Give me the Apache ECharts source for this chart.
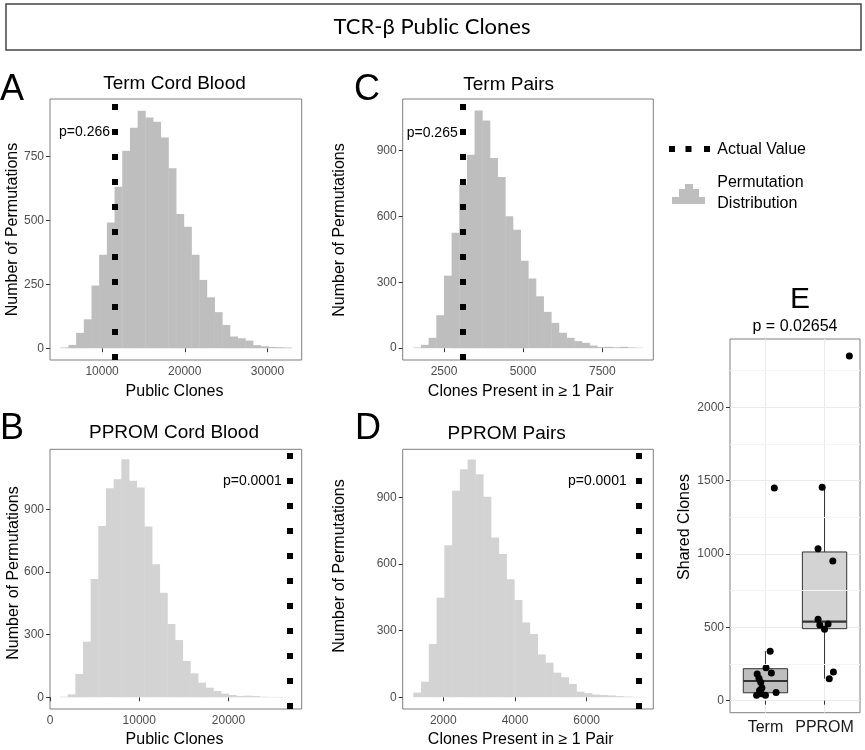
<!DOCTYPE html>
<html><head><meta charset="utf-8">
<script src="https://cdn.jsdelivr.net/npm/echarts@6/dist/echarts.min.js"></script>
<style>html,body{margin:0;padding:0;background:#fff}#c{width:865px;height:750px}</style>
</head><body><div id="c"></div>
<script>
// ---------- data ----------
const figureTitle = 'TCR-β Public Clones';
const panelTitles = ['Term Cord Blood', 'Term Pairs', 'PPROM Cord Blood', 'PPROM Pairs'];
const panelLetters = ['A', 'C', 'B', 'D', 'E'];
const pLabels = ['p=0.266', 'p=0.265', 'p=0.0001', 'p=0.0001'];
const xTitles = ['Public Clones', 'Clones Present in ≥ 1 Pair', 'Public Clones', 'Clones Present in ≥ 1 Pair'];
const yTitle = 'Number of Permutations';

// histogram counts (30 bins each)
const termCordCounts  = [3, 13, 60, 113, 245, 365, 491, 631, 772, 862, 928, 902, 885, 824, 703, 525, 475, 365, 267, 199, 141, 91, 46, 39, 30, 12, 8, 5, 4, 3];
const termPairsCounts = [3, 15, 47, 150, 330, 525, 745, 880, 1082, 1036, 865, 779, 600, 539, 398, 317, 236, 165, 115, 70, 47, 32, 24, 12, 5, 6, 4, 6, 3, 2];
const ppromCordCounts = [3, 14, 112, 266, 566, 820, 1000, 1044, 1139, 1036, 1004, 817, 637, 501, 351, 274, 174, 115, 70, 46, 30, 18, 11, 6, 8, 6, 3, 2, 2, 1];
const ppromPairsCounts = [21, 70, 240, 448, 685, 930, 1027, 1071, 1005, 903, 720, 645, 532, 438, 337, 285, 193, 156, 111, 90, 60, 25, 18, 12, 10, 8, 5, 3, 2, 1];
// bin start / bin width
const termCordBins  = [4998, 930];
const termPairsBins = [1530, 242];
const ppromCordBins = [1120, 859];
const ppromPairsBins = [1163, 216.7];
// actual observed values
const actualValues = [11564, 3091, 26812, 7450];

// axis ranges and ticks
const termCordX = [3700, 34140];  const termCordXTicks = [10000, 20000, 30000];
const termPairsX = [1195, 9111];  const termPairsXTicks = [2500, 5000, 7500];
const ppromCordX = [0, 28200];    const ppromCordXTicks = [0, 10000, 20000];
const ppromPairsX = [868, 7858];  const ppromPairsXTicks = [2000, 4000, 6000];
const termCordY = [-46, 974];     const termCordYTicks = [0, 250, 500, 750];
const termPairsY = [-54, 1134];   const termPairsYTicks = [0, 300, 600, 900];
const ppromCordY = [-56, 1187];   const ppromCordYTicks = [0, 300, 600, 900];
const ppromPairsY = [-53, 1117];  const ppromPairsYTicks = [0, 300, 600, 900];

// panel E
const eCategories = ['Term', 'PPROM'];
const eTitle = 'p = 0.02654';
const eYTitle = 'Shared Clones';
const termShared  = [1450, 337, 225, 189, 182, 153, 125, 88, 70, 55, 48, 37, 37];
const termJitter  = [1.15, 1.08, 1.01, 1.10, 0.86, 0.89, 0.92, 0.94, 0.90, 1.18, 0.93, 0.85, 1.00];
const ppromShared = [2350, 1455, 1036, 952, 555, 523, 516, 487, 196, 150];
const ppromJitter = [2.42, 1.96, 1.89, 2.14, 1.89, 2.06, 1.92, 2.00, 2.15, 2.08];
const termBox  = [33, 54, 134, 218, 337];     // min, Q1, median, Q3, max (whiskers)
const ppromBox = [150, 491, 539, 1014, 1455];
const eY = [-82, 2466];
const eYTicks = [0, 500, 1000, 1500, 2000];
const eYMinor = [250, 750, 1250, 1750, 2250];
const legendLabels = ['Actual Value', 'Permutation', 'Distribution'];

// ---------- styles ----------
const FONT = '"Liberation Sans", Arial, Helvetica, sans-serif';
const TERM_GRAY = '#bebebe', PPROM_GRAY = '#d3d3d3';
const BORDER = '#7f7f7f';

function valAxis(gridIndex, range, ticks, extra) {
  return Object.assign({
    type: 'value', gridIndex, min: range[0], max: range[1],
    axisLine: { show: false },
    axisTick: { show: true, length: 4, lineStyle: { color: '#333' }, customValues: ticks },
    axisLabel: { customValues: ticks, color: '#4d4d4d', fontSize: 12, fontFamily: FONT, margin: 6, formatter: v => String(v) },
    splitLine: { show: false }
  }, extra || {});
}

function histSeries(idx, color, bins, counts, actual) {
  const data = counts.map((c, i) => [bins[0] + i * bins[1], bins[0] + (i + 1) * bins[1], c]);
  return {
    type: 'custom', xAxisIndex: idx, yAxisIndex: idx, data,
    encode: { x: [0, 1], y: 2 },
    renderItem: (params, api) => {
      const p0 = api.coord([api.value(0), 0]);
      const p1 = api.coord([api.value(1), api.value(2)]);
      return { type: 'rect', shape: { x: p0[0], y: p1[1], width: p1[0] - p0[0] + 0.4, height: p0[1] - p1[1] }, style: { fill: color } };
    },
    markLine: {
      silent: true, symbol: ['none', 'none'], animation: false,
      label: { show: false }, emphasis: { disabled: true },
      lineStyle: { type: [6, 19], width: 6, color: '#000', cap: 'butt' },
      data: [{ xAxis: actual }]
    },
    z: 2
  };
}

const grids = [
  { left: 50, top: 99, width: 251.7, height: 261 },
  { left: 402.7, top: 99, width: 250.6, height: 261 },
  { left: 50, top: 449.3, width: 251.7, height: 259.7 },
  { left: 402.7, top: 449.3, width: 250.6, height: 259.7 },
  { left: 730, top: 339, width: 130, height: 373.7 }
].map(g => Object.assign({ show: true, borderColor: BORDER, borderWidth: 1, backgroundColor: '#fff' }, g));

const xAxes = [
  valAxis(0, termCordX, termCordXTicks),
  valAxis(1, termPairsX, termPairsXTicks),
  valAxis(2, ppromCordX, ppromCordXTicks),
  valAxis(3, ppromPairsX, ppromPairsXTicks),
  valAxis(4, [0.4, 2.6], [1, 2], {
    axisLabel: { customValues: [1, 2], color: '#1a1a1a', fontSize: 16, fontFamily: FONT, margin: 7, formatter: v => eCategories[Math.round(v) - 1] },
    splitLine: { show: true, lineStyle: { color: '#ebebeb', width: 1 } }
  })
];
const yAxes = [
  valAxis(0, termCordY, termCordYTicks),
  valAxis(1, termPairsY, termPairsYTicks),
  valAxis(2, ppromCordY, ppromCordYTicks),
  valAxis(3, ppromPairsY, ppromPairsYTicks),
  valAxis(4, eY, eYTicks, { splitLine: { show: true, lineStyle: { color: '#ebebeb', width: 1 } } })
];

const boxColors = [TERM_GRAY, PPROM_GRAY];
const series = [
  histSeries(0, TERM_GRAY, termCordBins, termCordCounts, actualValues[0]),
  histSeries(1, TERM_GRAY, termPairsBins, termPairsCounts, actualValues[1]),
  histSeries(2, PPROM_GRAY, ppromCordBins, ppromCordCounts, actualValues[2]),
  histSeries(3, PPROM_GRAY, ppromPairsBins, ppromPairsCounts, actualValues[3]),
  { // minor grid lines for E
    type: 'line', xAxisIndex: 4, yAxisIndex: 4, data: [], z: 0,
    markLine: {
      silent: true, symbol: ['none', 'none'], animation: false, label: { show: false },
      lineStyle: { type: 'solid', color: '#f4f4f4', width: 1 },
      data: eYMinor.map(v => ({ yAxis: v }))
    }
  },
  {
    type: 'custom', xAxisIndex: 4, yAxisIndex: 4,
    data: [[1].concat(termBox), [2].concat(ppromBox)],
    encode: { x: 0, y: [1, 2, 3, 4, 5] },
    renderItem: (params, api) => {
      const x = api.value(0), hw = 0.375;
      const lo = api.coord([x, api.value(1)]), q1 = api.coord([x, api.value(2)]);
      const q3 = api.coord([x, api.value(4)]), hi = api.coord([x, api.value(5)]);
      const tl = api.coord([x - hw, api.value(4)]), br = api.coord([x + hw, api.value(2)]);
      const ml = api.coord([x - hw, api.value(3)]), mr = api.coord([x + hw, api.value(3)]);
      const st = { stroke: '#333', lineWidth: 1 };
      return { type: 'group', children: [
        { type: 'line', shape: { x1: hi[0], y1: hi[1], x2: q3[0], y2: q3[1] }, style: st },
        { type: 'line', shape: { x1: lo[0], y1: lo[1], x2: q1[0], y2: q1[1] }, style: st },
        { type: 'rect', shape: { x: tl[0], y: tl[1], width: br[0] - tl[0], height: br[1] - tl[1] }, style: { fill: boxColors[params.dataIndex], stroke: '#333', lineWidth: 1 } },
        { type: 'line', shape: { x1: ml[0], y1: ml[1], x2: mr[0], y2: mr[1] }, style: { stroke: '#333', lineWidth: 2.2 } }
      ] };
    },
    z: 2
  },
  {
    type: 'scatter', xAxisIndex: 4, yAxisIndex: 4, symbolSize: 7, itemStyle: { color: '#000', opacity: 1 },
    data: termJitter.map((x, i) => [x, termShared[i]]).concat(ppromJitter.map((x, i) => [x, ppromShared[i]])),
    z: 3
  }
];

function txt(text, x, y, size, opts) {
  const o = opts || {};
  return {
    type: 'text', x, y, rotation: o.rot || 0, z: 10,
    style: {
      text, font: (o.weight || 'normal') + ' ' + size + 'px ' + (o.family || FONT), fill: o.color || '#000',
      textAlign: o.align || 'center', textVerticalAlign: 'middle', align: o.align || 'center', verticalAlign: 'middle'
    }
  };
}

const graphics = [
  { type: 'rect', shape: { x: 6, y: 4, width: 855, height: 46 }, style: { fill: '#fff', stroke: '#444', lineWidth: 1.5 }, z: 1 },
  txt(figureTitle, 432, 27, 22, { family: 'Lato, "Open Sans", sans-serif' }),
  // letters
  txt(panelLetters[0], 0, 90, 36, { align: 'left' }),
  txt(panelLetters[1], 354, 90, 36, { align: 'left' }),
  txt(panelLetters[2], 0, 429, 36, { align: 'left' }),
  txt(panelLetters[3], 355, 429, 36, { align: 'left' }),
  txt(panelLetters[4], 800, 300, 30),
  // panel titles
  txt(panelTitles[0], 174.5, 84, 19),
  txt(panelTitles[1], 508.7, 85, 19),
  txt(panelTitles[2], 174, 433, 19),
  txt(panelTitles[3], 506.7, 433.3, 19),
  txt(eTitle, 795, 327, 16),
  // y titles
  txt(yTitle, 13, 229.5, 16, { rot: Math.PI / 2 }),
  txt(yTitle, 340, 230, 16, { rot: Math.PI / 2 }),
  txt(yTitle, 13.3, 573, 16, { rot: Math.PI / 2 }),
  txt(yTitle, 340, 566, 16, { rot: Math.PI / 2 }),
  txt(eYTitle, 685, 527, 16, { rot: Math.PI / 2 }),
  // x titles
  txt(xTitles[0], 174.5, 391.7, 16),
  txt(xTitles[1], 520.7, 391.7, 16),
  txt(xTitles[2], 174.5, 739.5, 16),
  txt(xTitles[3], 520.7, 739.5, 16),
  // p labels
  txt(pLabels[0], 110, 131.7, 14, { align: 'right' }),
  txt(pLabels[1], 457.7, 132.7, 14, { align: 'right' }),
  txt(pLabels[2], 281.7, 480.7, 14, { align: 'right' }),
  txt(pLabels[3], 626.7, 480.7, 14, { align: 'right' }),
  // legend
  { type: 'rect', shape: { x: 669, y: 146, width: 6, height: 6 }, style: { fill: '#000' } },
  { type: 'rect', shape: { x: 685.5, y: 146, width: 6, height: 6 }, style: { fill: '#000' } },
  { type: 'rect', shape: { x: 704, y: 146, width: 6, height: 6 }, style: { fill: '#000' } },
  { type: 'polygon', shape: { points: [[672, 204], [672, 197], [679, 197], [679, 189], [685, 189], [685, 184], [693, 184], [693, 189], [699, 189], [699, 197], [705, 197], [705, 204]] }, style: { fill: TERM_GRAY } },
  txt(legendLabels[0], 717.3, 149.3, 16, { align: 'left' }),
  txt(legendLabels[1], 717.3, 183, 16, { align: 'left' }),
  txt(legendLabels[2], 717.3, 203.5, 16, { align: 'left' })
];

const chart = echarts.init(document.getElementById('c'), null, { renderer: 'canvas' });
chart.setOption({
  animation: false,
  backgroundColor: '#fff',
  textStyle: { fontFamily: FONT },
  grid: grids,
  xAxis: xAxes,
  yAxis: yAxes,
  series,
  graphic: graphics
});
</script>
</body></html>
